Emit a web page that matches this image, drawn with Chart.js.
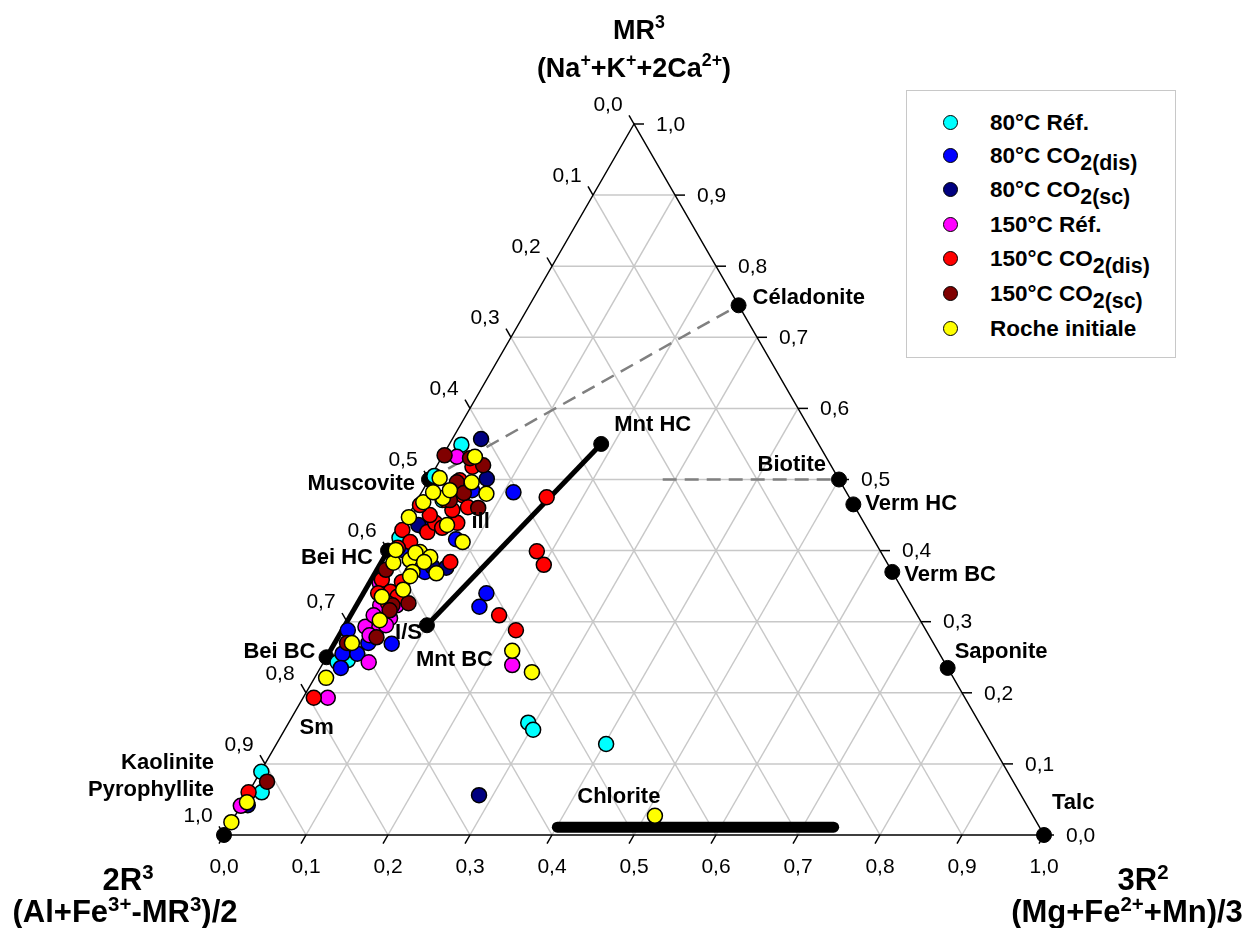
<!DOCTYPE html>
<html>
<head>
<meta charset="utf-8">
<script src="https://cdn.jsdelivr.net/npm/chart.js@4.4.1/dist/chart.umd.min.js"></script>
<style>
body { margin:0; background:#fff; font-family:"Liberation Sans", Arial, sans-serif; }
#wrap { position:relative; width:1251px; height:928px; overflow:hidden; }
#ternary { position:absolute; left:0; top:0; }
.ttl { position:absolute; font-weight:bold; color:#000; text-align:center; white-space:nowrap; line-height:34px; height:34px; }
.ttl sup { font-size:0.66em; position:relative; top:-11px; vertical-align:baseline; }
.top { font-size:27px; }
.bot { font-size:31px; }
#legend { position:absolute; left:906px; top:90px; width:268px; height:266px; border:1px solid #c8c8c8; background:#fff; }
.lg { position:absolute; left:0; height:26px; width:268px; }
.mk { position:absolute; left:36px; top:5px; width:13px; height:13px; border:1.5px solid #000; border-radius:50%; }
.lt { position:absolute; left:83px; top:0; font-weight:bold; font-size:22.5px; line-height:26px; white-space:nowrap; }
.lt sub { font-size:0.95em; position:relative; top:7px; vertical-align:baseline; }
</style>
</head>
<body>
<div id="wrap">
  <canvas id="ternary" width="1251" height="928"></canvas>
  <div class="ttl top" style="left:489px; top:13px; width:300px;">MR<sup>3</sup></div>
  <div class="ttl top" style="left:484px; top:51px; width:300px;">(Na<sup>+</sup>+K<sup>+</sup>+2Ca<sup>2+</sup>)</div>
  <div class="ttl bot" style="left:0px; top:863px; width:256px;">2R<sup>3</sup></div>
  <div class="ttl bot" style="left:-15px; top:895px; width:280px;">(Al+Fe<sup>3+</sup>-MR<sup>3</sup>)/2</div>
  <div class="ttl bot" style="left:1043px; top:863px; width:200px;">3R<sup>2</sup></div>
  <div class="ttl bot" style="left:987px; top:895px; width:280px;">(Mg+Fe<sup>2+</sup>+Mn)/3</div>
  <div id="legend"></div>
</div>
<script>
// series: MR3 fraction (top apex) and 3R2 fraction (right apex), 2R3 = 1 - both
const seriesNames = ['80°C Réf.', '80°C CO<sub>2(dis)</sub>', '80°C CO<sub>2(sc)</sub>', '150°C Réf.',
    '150°C CO<sub>2(dis)</sub>', '150°C CO<sub>2(sc)</sub>', 'Roche initiale'];
const seriesColors = ['#00ffff', '#0000ff', '#000080', '#ff00ff', '#ff0000', '#800000', '#ffff00'];

const ref80_MR3 = [0.549, 0.471, 0.418, 0.333, 0.243, 0.246, 0.089, 0.060, 0.158, 0.148, 0.128, 0.505];
const ref80_R2  = [0.015, 0.031, 0.005, 0.048, 0.017, 0.028, 0.001, 0.016, 0.292, 0.303, 0.402, 0.004];

const dis80_MR3 = [0.482, 0.340, 0.321, 0.416, 0.255, 0.255, 0.235, 0.270, 0.269, 0.288, 0.432, 0.401, 0.370, 0.485];
const dis80_R2  = [0.112, 0.150, 0.151, 0.075, 0.017, 0.035, 0.025, 0.041, 0.070, 0.007, 0.029, 0.017, 0.060, 0.060];

const sc80_MR3 = [0.056, 0.557, 0.501, 0.042, 0.377, 0.436, 0.376];
const sc80_R2  = [0.283, 0.035, 0.070, 0.008, 0.066, 0.019, 0.083];

const ref150_MR3 = [0.239, 0.193, 0.243, 0.532, 0.293, 0.293, 0.305, 0.323, 0.323, 0.281, 0.354, 0.295, 0.309, 0.041];
const ref150_R2  = [0.232, 0.030, 0.055, 0.018, 0.026, 0.043, 0.050, 0.049, 0.029, 0.037, 0.013, 0.050, 0.028, 0.000];

const dis150_MR3 = [0.475, 0.399, 0.380, 0.309, 0.288, 0.384, 0.193, 0.060, 0.429, 0.412, 0.426, 0.439, 0.439, 0.450, 0.359,
    0.342, 0.340, 0.335, 0.356, 0.499, 0.478, 0.461, 0.518, 0.457, 0.404, 0.464, 0.432, 0.326, 0.471];
const dis150_R2  = [0.156, 0.182, 0.200, 0.181, 0.212, 0.084, 0.013, 0.000, 0.003, 0.021, 0.035, 0.038, 0.065, 0.026, 0.013,
    0.032, 0.018, 0.044, 0.039, 0.038, 0.052, 0.067, 0.044, 0.050, 0.010, 0.007, 0.050, 0.037, 0.035];

const sc150_MR3 = [0.075, 0.534, 0.520, 0.496, 0.481, 0.460, 0.323, 0.326, 0.316, 0.278, 0.270, 0.373, 0.530, 0.471];
const sc150_R2  = [0.015, 0.002, 0.056, 0.036, 0.052, 0.080, 0.044, 0.062, 0.044, 0.047, 0.015, 0.011, 0.035, 0.040];

const rock_MR3 = [0.027, 0.259, 0.229, 0.046, 0.018, 0.221, 0.270, 0.532, 0.502, 0.496, 0.480, 0.468, 0.474, 0.485, 0.447,
    0.436, 0.412, 0.398, 0.387, 0.383, 0.391, 0.370, 0.368, 0.364, 0.335, 0.345, 0.397, 0.302, 0.384, 0.401, 0.482];
const rock_R2  = [0.512, 0.222, 0.261, 0.005, 0.000, 0.014, 0.021, 0.040, 0.012, 0.054, 0.080, 0.009, 0.030, 0.033, 0.002,
    0.054, 0.085, 0.040, 0.033, 0.015, 0.056, 0.045, 0.075, 0.045, 0.025, 0.046, 0.035, 0.039, 0.052, 0.009, 0.014];

// reference minerals (black dots)
const mineralNames = ['Kaolinite', 'Muscovite', 'Bei HC', 'Bei BC', 'I/S', 'Mnt HC', 'Céladonite', 'Biotite', 'Verm HC', 'Verm BC', 'Saponite', 'Talc'];
const mineralMR3 = [0, 0.50, 0.40, 0.25, 0.295, 0.55, 0.745, 0.50, 0.465, 0.37, 0.235, 0];
const mineral3R2 = [0, 0, 0, 0, 0.10, 0.185, 0.255, 0.50, 0.535, 0.63, 0.765, 1];

const tickValues = [0, 0.1, 0.2, 0.3, 0.4, 0.5, 0.6, 0.7, 0.8, 0.9, 1.0];

// ternary -> plot coords (x along base, y = MR3 height fraction)
function tern(a, b) { return { x: b + a / 2, y: a }; }
function pts(A, B) { return A.map((a, i) => tern(a, B[i])); }

const seriesData = [
    pts(ref80_MR3, ref80_R2), pts(dis80_MR3, dis80_R2), pts(sc80_MR3, sc80_R2),
    pts(ref150_MR3, ref150_R2), pts(dis150_MR3, dis150_R2), pts(sc150_MR3, sc150_R2),
    pts(rock_MR3, rock_R2)
];

const datasets = [];

// tie lines
function tieLine(A, B, width, color, dash, cap) {
    return { data: pts(A, B), showLine: true, pointRadius: 0, borderColor: color, borderWidth: width,
        borderDash: dash || [], borderCapStyle: cap || 'butt', clip: false, order: 20 };
}
datasets.push(tieLine([0.40, 0.25], [0, 0], 5, '#000'));
datasets.push(tieLine([0.295, 0.55], [0.10, 0.185], 5, '#000'));
datasets.push(tieLine([0.011, 0.011], [0.401, 0.738], 11, '#000', [], 'round'));
datasets.push(tieLine([0.50, 0.745], [0, 0.255], 2.5, '#808080', [14, 8]));
datasets.push(tieLine([0.50, 0.50], [0.285, 0.50], 2.5, '#808080', [14, 8]));

datasets.push({ data: pts(mineralMR3, mineral3R2), pointRadius: 7.5, pointBackgroundColor: '#000',
    pointBorderColor: '#000', pointBorderWidth: 1, clip: false, order: 10 });

seriesData.forEach((d, i) => {
    datasets.push({ label: seriesNames[i], data: d, pointRadius: 7.5, pointBackgroundColor: seriesColors[i],
        pointBorderColor: '#000', pointBorderWidth: 1.5, clip: false, order: 7 - i });
});

// annotations on the diagram
const labels = [
    { t: 'Céladonite', a: 0.745, b: 0.255, dx: 14, dy: -7, al: 'left' },
    { t: 'Mnt HC', a: 0.55, b: 0.185, dx: 13, dy: -19, al: 'left' },
    { t: 'Biotite', a: 0.5, b: 0.5, dx: -13, dy: -15, al: 'right' },
    { t: 'Verm HC', a: 0.465, b: 0.535, dx: 12, dy: 0, al: 'left' },
    { t: 'Verm BC', a: 0.37, b: 0.63, dx: 12, dy: 3, al: 'left' },
    { t: 'Saponite', a: 0.235, b: 0.765, dx: 7, dy: -16, al: 'left' },
    { t: 'Talc', a: 0, b: 1, dx: 8, dy: -32, al: 'left' },
    { t: 'Muscovite', a: 0.5, b: 0, dx: -14, dy: 4, al: 'right' },
    { t: 'Bei HC', a: 0.40, b: 0, dx: -15, dy: 7, al: 'right' },
    { t: 'Bei BC', a: 0.25, b: 0, dx: -11, dy: -5, al: 'right' },
    { t: 'I/S', a: 0.295, b: 0.10, dx: -5, dy: 8, al: 'right' },
    { t: 'Mnt BC', a: 0.295, b: 0.10, dx: -11, dy: 35, al: 'left' },
    { t: 'ill', a: 0.44, b: 0.093, dx: 0, dy: 0, al: 'center' },
    { t: 'Sm', a: 0.15, b: 0.038, dx: 0, dy: 0, al: 'center' },
    { t: 'Kaolinite', a: 0, b: 0, dx: -10, dy: -72, al: 'right' },
    { t: 'Pyrophyllite', a: 0, b: 0, dx: -10, dy: -45, al: 'right' },
    { t: 'Chlorite', a: 0.053, b: 0.455, dx: 0, dy: 0, al: 'center' }
];

function fmt(v) { return v.toFixed(1).replace('.', ','); }

const ternaryFrame = {
    id: 'ternaryFrame',
    beforeDatasetsDraw(chart) {
        const ctx = chart.ctx, xs = chart.scales.x, ys = chart.scales.y;
        const P = (a, b) => { const p = tern(a, b); return [xs.getPixelForValue(p.x), ys.getPixelForValue(p.y)]; };
        const seg = (p, q) => { ctx.beginPath(); ctx.moveTo(p[0], p[1]); ctx.lineTo(q[0], q[1]); ctx.stroke(); };
        ctx.save();
        ctx.strokeStyle = '#c8c8c8';
        ctx.lineWidth = 1.5;
        tickValues.slice(1, -1).forEach(f => {
            seg(P(f, 0), P(f, 1 - f));
            seg(P(0, f), P(1 - f, f));
            seg(P(0, 1 - f), P(1 - f, 0));
        });
        ctx.strokeStyle = '#000';
        ctx.lineWidth = 1.5;
        ctx.beginPath();
        const A = P(1, 0), B = P(0, 0), C = P(0, 1);
        ctx.moveTo(A[0], A[1]); ctx.lineTo(B[0], B[1]); ctx.lineTo(C[0], C[1]); ctx.closePath(); ctx.stroke();

        ctx.fillStyle = '#000';
        ctx.font = '21px "Liberation Sans", Arial, sans-serif';
        ctx.textBaseline = 'middle';
        tickValues.forEach(f => {
            // right axis: MR3
            let p = P(f, 1 - f);
            seg(p, [p[0] + 10, p[1]]);
            ctx.textAlign = 'left';
            ctx.fillText(fmt(f), p[0] + 22, p[1] + 1);
            // left axis: 2R3
            p = P(1 - f, 0);
            seg(p, [p[0] - 5, p[1] - 8.7]);
            ctx.textAlign = 'center';
            ctx.fillText(fmt(f), p[0] - 26, p[1] - 19);
            // bottom axis: 3R2
            p = P(0, f);
            seg(p, [p[0] - 5, p[1] + 8.7]);
            ctx.fillText(fmt(f), p[0], p[1] + 32);
        });
        ctx.restore();
    },
    afterDatasetsDraw(chart) {
        const ctx = chart.ctx, xs = chart.scales.x, ys = chart.scales.y;
        ctx.save();
        ctx.fillStyle = '#000';
        ctx.font = 'bold 22px "Liberation Sans", Arial, sans-serif';
        ctx.textBaseline = 'middle';
        labels.forEach(l => {
            const p = tern(l.a, l.b);
            ctx.textAlign = l.al;
            ctx.fillText(l.t, xs.getPixelForValue(p.x) + l.dx, ys.getPixelForValue(p.y) + l.dy);
        });
        ctx.restore();
    }
};

new Chart(document.getElementById('ternary').getContext('2d'), {
    type: 'scatter',
    data: { datasets: datasets },
    options: {
        responsive: false,
        animation: false,
        layout: { padding: { left: 224, right: 207, top: 124, bottom: 93 } },
        scales: {
            x: { type: 'linear', min: 0, max: 1, display: false },
            y: { type: 'linear', min: 0, max: 1, display: false }
        },
        plugins: { legend: { display: false }, tooltip: { enabled: false } }
    },
    plugins: [ternaryFrame]
});

// legend box
const legendRows = [122, 155, 189, 224, 258, 293, 328];
const legend = document.getElementById('legend');
seriesNames.forEach((name, i) => {
    const row = document.createElement('div');
    row.className = 'lg';
    row.style.top = (legendRows[i] - 90 - 13) + 'px';
    row.innerHTML = '<span class="mk" style="background:' + seriesColors[i] + '"></span><span class="lt">' + name + '</span>';
    legend.appendChild(row);
});
</script>
</body>
</html>
